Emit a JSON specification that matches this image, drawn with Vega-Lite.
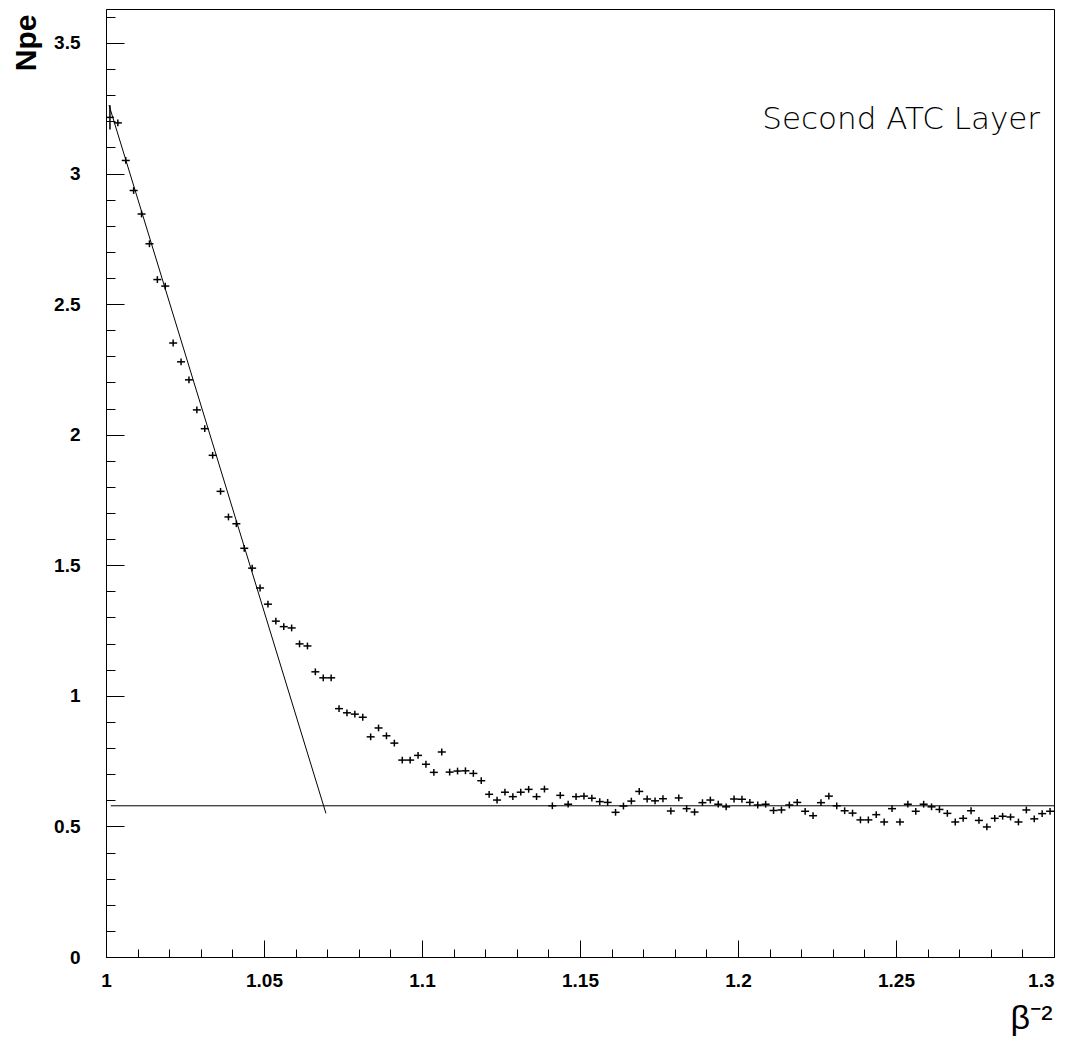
{
  "$schema": "https://vega.github.io/schema/vega-lite/v6.json",
  "width": 948,
  "height": 948,
  "autosize": {"type": "none"},
  "padding": {"left": 106, "top": 9, "right": 19, "bottom": 86},
  "background": "white",
  "config": {
    "view": {"stroke": "black", "strokeWidth": 1},
    "axis": {"grid": false, "domainColor": "black", "domainWidth": 1, "tickColor": "black", "tickWidth": 1,
      "labelFont": "Liberation Sans", "labelFontWeight": "bold", "labelFontSize": 19, "labelColor": "black",
      "titleColor": "black", "labelOverlap": false, "labelBound": false, "labelFlush": false}
  },
  "datasets": {
    "hist": [
      {"x":1.00125,"n":3.215,"e":0.046},{"x":1.00375,"n":3.194,"e":0.013},{"x":1.00625,"n":3.050,"e":0.013},{"x":1.00875,"n":2.935,"e":0.013},
      {"x":1.01125,"n":2.845,"e":0.013},{"x":1.01375,"n":2.731,"e":0.013},{"x":1.01625,"n":2.594,"e":0.013},{"x":1.01875,"n":2.569,"e":0.013},
      {"x":1.02125,"n":2.351,"e":0.013},{"x":1.02375,"n":2.279,"e":0.013},{"x":1.02625,"n":2.210,"e":0.013},{"x":1.02875,"n":2.095,"e":0.013},
      {"x":1.03125,"n":2.023,"e":0.013},{"x":1.03375,"n":1.921,"e":0.013},{"x":1.03625,"n":1.783,"e":0.013},{"x":1.03875,"n":1.685,"e":0.013},
      {"x":1.04125,"n":1.659,"e":0.013},{"x":1.04375,"n":1.565,"e":0.013},{"x":1.04625,"n":1.489,"e":0.013},{"x":1.04875,"n":1.413,"e":0.013},
      {"x":1.05125,"n":1.351,"e":0.013},{"x":1.05375,"n":1.286,"e":0.013},{"x":1.05625,"n":1.265,"e":0.013},{"x":1.05875,"n":1.260,"e":0.013},
      {"x":1.06125,"n":1.199,"e":0.013},{"x":1.06375,"n":1.191,"e":0.013},{"x":1.06625,"n":1.092,"e":0.013},{"x":1.06875,"n":1.069,"e":0.013},
      {"x":1.07125,"n":1.069,"e":0.013},{"x":1.07375,"n":0.951,"e":0.013},{"x":1.07625,"n":0.935,"e":0.013},{"x":1.07875,"n":0.930,"e":0.013},
      {"x":1.08125,"n":0.918,"e":0.013},{"x":1.08375,"n":0.843,"e":0.013},{"x":1.08625,"n":0.877,"e":0.013},{"x":1.08875,"n":0.847,"e":0.013},
      {"x":1.09125,"n":0.819,"e":0.013},{"x":1.09375,"n":0.754,"e":0.013},{"x":1.09625,"n":0.754,"e":0.013},{"x":1.09875,"n":0.772,"e":0.013},
      {"x":1.10125,"n":0.738,"e":0.013},{"x":1.10375,"n":0.707,"e":0.013},{"x":1.10625,"n":0.785,"e":0.013},{"x":1.10875,"n":0.708,"e":0.013},
      {"x":1.11125,"n":0.712,"e":0.013},{"x":1.11375,"n":0.713,"e":0.013},{"x":1.11625,"n":0.703,"e":0.013},{"x":1.11875,"n":0.675,"e":0.013},
      {"x":1.12125,"n":0.623,"e":0.013},{"x":1.12375,"n":0.601,"e":0.013},{"x":1.12625,"n":0.631,"e":0.013},{"x":1.12875,"n":0.614,"e":0.013},
      {"x":1.13125,"n":0.631,"e":0.013},{"x":1.13375,"n":0.642,"e":0.013},{"x":1.13625,"n":0.614,"e":0.013},{"x":1.13875,"n":0.643,"e":0.013},
      {"x":1.14125,"n":0.579,"e":0.013},{"x":1.14375,"n":0.619,"e":0.013},{"x":1.14625,"n":0.585,"e":0.013},{"x":1.14875,"n":0.614,"e":0.013},
      {"x":1.15125,"n":0.616,"e":0.013},{"x":1.15375,"n":0.608,"e":0.013},{"x":1.15625,"n":0.595,"e":0.013},{"x":1.15875,"n":0.592,"e":0.013},
      {"x":1.16125,"n":0.554,"e":0.013},{"x":1.16375,"n":0.578,"e":0.013},{"x":1.16625,"n":0.597,"e":0.013},{"x":1.16875,"n":0.634,"e":0.013},
      {"x":1.17125,"n":0.605,"e":0.013},{"x":1.17375,"n":0.598,"e":0.013},{"x":1.17625,"n":0.606,"e":0.013},{"x":1.17875,"n":0.559,"e":0.013},
      {"x":1.18125,"n":0.609,"e":0.013},{"x":1.18375,"n":0.568,"e":0.013},{"x":1.18625,"n":0.555,"e":0.013},{"x":1.18875,"n":0.591,"e":0.013},
      {"x":1.19125,"n":0.601,"e":0.013},{"x":1.19375,"n":0.585,"e":0.013},{"x":1.19625,"n":0.575,"e":0.013},{"x":1.19875,"n":0.605,"e":0.013},
      {"x":1.20125,"n":0.604,"e":0.013},{"x":1.20375,"n":0.592,"e":0.013},{"x":1.20625,"n":0.582,"e":0.013},{"x":1.20875,"n":0.585,"e":0.013},
      {"x":1.21125,"n":0.561,"e":0.013},{"x":1.21375,"n":0.563,"e":0.013},{"x":1.21625,"n":0.582,"e":0.013},{"x":1.21875,"n":0.592,"e":0.013},
      {"x":1.22125,"n":0.558,"e":0.013},{"x":1.22375,"n":0.541,"e":0.013},{"x":1.22625,"n":0.591,"e":0.013},{"x":1.22875,"n":0.616,"e":0.013},
      {"x":1.23125,"n":0.579,"e":0.013},{"x":1.23375,"n":0.560,"e":0.013},{"x":1.23625,"n":0.551,"e":0.013},{"x":1.23875,"n":0.525,"e":0.013},
      {"x":1.24125,"n":0.525,"e":0.013},{"x":1.24375,"n":0.545,"e":0.013},{"x":1.24625,"n":0.517,"e":0.013},{"x":1.24875,"n":0.568,"e":0.013},
      {"x":1.25125,"n":0.517,"e":0.013},{"x":1.25375,"n":0.585,"e":0.013},{"x":1.25625,"n":0.558,"e":0.013},{"x":1.25875,"n":0.585,"e":0.013},
      {"x":1.26125,"n":0.575,"e":0.013},{"x":1.26375,"n":0.565,"e":0.013},{"x":1.26625,"n":0.550,"e":0.013},{"x":1.26875,"n":0.517,"e":0.013},
      {"x":1.27125,"n":0.531,"e":0.013},{"x":1.27375,"n":0.560,"e":0.013},{"x":1.27625,"n":0.523,"e":0.013},{"x":1.27875,"n":0.498,"e":0.013},
      {"x":1.28125,"n":0.531,"e":0.013},{"x":1.28375,"n":0.539,"e":0.013},{"x":1.28625,"n":0.536,"e":0.013},{"x":1.28875,"n":0.517,"e":0.013},
      {"x":1.29125,"n":0.563,"e":0.013},{"x":1.29375,"n":0.529,"e":0.013},{"x":1.29625,"n":0.549,"e":0.013},{"x":1.29875,"n":0.558,"e":0.013}
    ],
    "fitSlope": [{"x":1.00095,"n":3.262},{"x":1.0696,"n":0.55}],
    "fitFlat": [{"x":1.0015,"n":0.579},{"x":1.3,"n":0.579}],
    "note": [{"t": "Second ATC Layer"}]
  },
  "layer": [
    {
      "encoding": {
        "x": {"field": "x", "type": "quantitative",
          "scale": {"domain": [1, 1.3], "nice": false, "zero": false},
          "axis": {
            "values": [1,1.01,1.02,1.03,1.04,1.05,1.06,1.07,1.08,1.09,1.1,1.11,1.12,1.13,1.14,1.15,1.16,1.17,1.18,1.19,1.2,1.21,1.22,1.23,1.24,1.25,1.26,1.27,1.28,1.29,1.3],
            "labelExpr": "abs(datum.value*20 - round(datum.value*20)) < 0.001 ? '' + datum.value : ''",
            "tickSize": {"condition": {"test": "abs(datum.value*20 - round(datum.value*20)) < 0.001", "value": -17}, "value": -8},
            "labelPadding": 31,
            "labelAlign": {"condition": {"test": "datum.value > 1.299", "value": "right"}, "value": "center"},
            "title": "β⁻²", "titleFont": "Liberation Sans", "titleFontSize": 34, "titleFontWeight": "normal",
            "titleAlign": "right", "titleAnchor": "end", "titleBaseline": "alphabetic", "titleX": 946, "titleY": 71
          }
        },
        "y": {"field": "n", "type": "quantitative",
          "scale": {"domain": [0, 3.63], "nice": false, "zero": false},
          "axis": {
            "values": [0,0.1,0.2,0.3,0.4,0.5,0.6,0.7,0.8,0.9,1,1.1,1.2,1.3,1.4,1.5,1.6,1.7,1.8,1.9,2,2.1,2.2,2.3,2.4,2.5,2.6,2.7,2.8,2.9,3,3.1,3.2,3.3,3.4,3.5,3.6],
            "labelExpr": "abs(datum.value*2 - round(datum.value*2)) < 0.001 ? '' + datum.value : ''",
            "tickSize": {"condition": {"test": "abs(datum.value*2 - round(datum.value*2)) < 0.001", "value": -18}, "value": -9},
            "labelPadding": 44,
            "title": "Npe", "titleFont": "Liberation Sans", "titleFontSize": 30, "titleFontWeight": "bold",
            "titleAngle": 270, "titleAlign": "right", "titleBaseline": "alphabetic", "titleX": -71, "titleY": 5
          }
        }
      },
      "layer": [
        {"data": {"name": "fitFlat"}, "mark": {"type": "line", "color": "black", "strokeWidth": 1}},
        {"data": {"name": "fitSlope"}, "mark": {"type": "line", "color": "black", "strokeWidth": 1}},
        {"data": {"name": "hist"}, "mark": {"type": "tick", "orient": "horizontal", "size": 8, "thickness": 1.5, "color": "black", "opacity": 1}},
        {"data": {"name": "hist"}, "mark": {"type": "errorbar", "ticks": false, "thickness": 1.5, "color": "black"},
          "encoding": {"yError": {"field": "e"}}}
      ]
    },
    {"data": {"name": "note"},
      "mark": {"type": "text", "align": "right", "baseline": "alphabetic", "font": "DejaVu Sans", "fontWeight": 200, "fontSize": 31, "fill": "black", "opacity": 1},
      "encoding": {
        "x": {"datum": 1.2956, "type": "quantitative",
          "scale": {"domain": [1, 1.3], "nice": false, "zero": false},
          "axis": {
            "values": [1,1.01,1.02,1.03,1.04,1.05,1.06,1.07,1.08,1.09,1.1,1.11,1.12,1.13,1.14,1.15,1.16,1.17,1.18,1.19,1.2,1.21,1.22,1.23,1.24,1.25,1.26,1.27,1.28,1.29,1.3],
            "labelExpr": "abs(datum.value*20 - round(datum.value*20)) < 0.001 ? '' + datum.value : ''",
            "tickSize": {"condition": {"test": "abs(datum.value*20 - round(datum.value*20)) < 0.001", "value": -17}, "value": -8},
            "labelPadding": 31,
            "labelAlign": {"condition": {"test": "datum.value > 1.299", "value": "right"}, "value": "center"},
            "title": "β⁻²", "titleFont": "Liberation Sans", "titleFontSize": 34, "titleFontWeight": "normal",
            "titleAlign": "right", "titleAnchor": "end", "titleBaseline": "alphabetic", "titleX": 946, "titleY": 71
          }
        },
        "y": {"datum": 3.17, "type": "quantitative",
          "scale": {"domain": [0, 3.63], "nice": false, "zero": false},
          "axis": {
            "values": [0,0.1,0.2,0.3,0.4,0.5,0.6,0.7,0.8,0.9,1,1.1,1.2,1.3,1.4,1.5,1.6,1.7,1.8,1.9,2,2.1,2.2,2.3,2.4,2.5,2.6,2.7,2.8,2.9,3,3.1,3.2,3.3,3.4,3.5,3.6],
            "labelExpr": "abs(datum.value*2 - round(datum.value*2)) < 0.001 ? '' + datum.value : ''",
            "tickSize": {"condition": {"test": "abs(datum.value*2 - round(datum.value*2)) < 0.001", "value": -18}, "value": -9},
            "labelPadding": 44,
            "title": "Npe", "titleFont": "Liberation Sans", "titleFontSize": 30, "titleFontWeight": "bold",
            "titleAngle": 270, "titleAlign": "right", "titleBaseline": "alphabetic", "titleX": -71, "titleY": 5
          }
        },
        "text": {"field": "t", "type": "nominal"}
      }
    }
  ]
}
